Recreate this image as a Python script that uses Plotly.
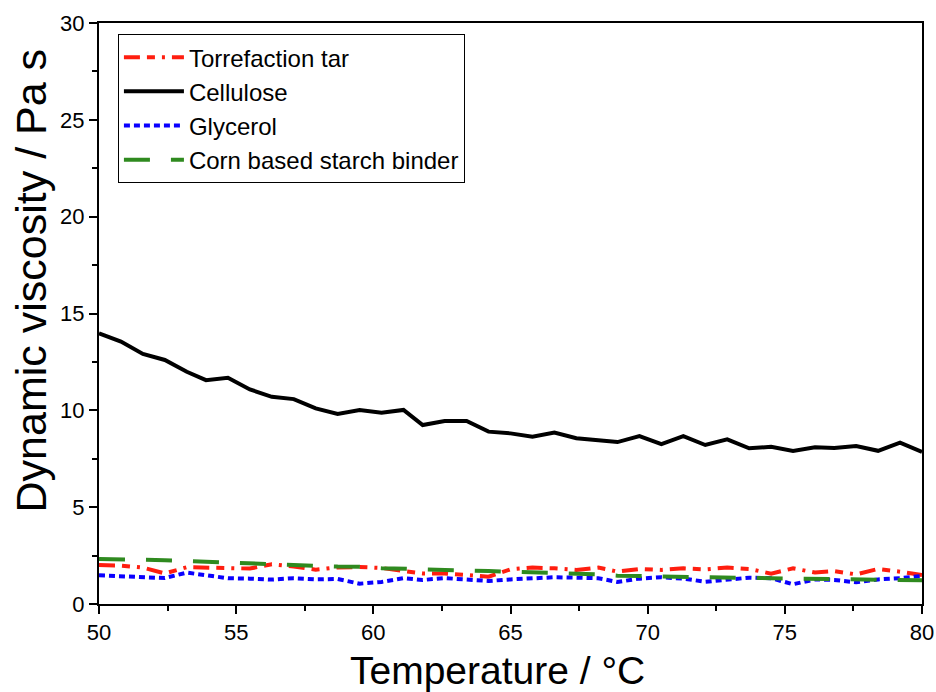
import plotly.graph_objects as go

temperature = [50.0, 50.8, 51.6, 52.4, 53.2, 53.9, 54.7, 55.5, 56.3, 57.1,
               57.9, 58.7, 59.5, 60.3, 61.1, 61.8, 62.6, 63.4, 64.2, 65.0,
               65.8, 66.6, 67.4, 68.2, 68.9, 69.7, 70.5, 71.3, 72.1, 72.9,
               73.7, 74.5, 75.3, 76.1, 76.8, 77.6, 78.4, 79.2, 80.0]

torrefaction_tar = [2.01, 1.98, 1.88, 1.58, 1.90, 1.89, 1.84, 1.83, 2.05, 1.94,
                    1.77, 1.89, 1.91, 1.86, 1.70, 1.58, 1.58, 1.50, 1.41, 1.79,
                    1.88, 1.84, 1.76, 1.88, 1.67, 1.81, 1.76, 1.84, 1.79, 1.88,
                    1.81, 1.57, 1.84, 1.63, 1.70, 1.53, 1.81, 1.67, 1.50]

cellulose = [13.98, 13.55, 12.91, 12.60, 11.99, 11.56, 11.68, 11.08, 10.70, 10.58,
             10.10, 9.81, 10.02, 9.88, 10.02, 9.24, 9.45, 9.45, 8.90, 8.81,
             8.64, 8.85, 8.56, 8.47, 8.36, 8.67, 8.26, 8.67, 8.21, 8.50,
             8.04, 8.12, 7.90, 8.09, 8.05, 8.16, 7.91, 8.33, 7.85]

glycerol = [1.48, 1.43, 1.40, 1.34, 1.62, 1.50, 1.33, 1.31, 1.26, 1.33,
            1.27, 1.29, 1.05, 1.14, 1.33, 1.24, 1.34, 1.26, 1.19, 1.27,
            1.33, 1.38, 1.36, 1.33, 1.14, 1.31, 1.38, 1.31, 1.15, 1.27,
            1.36, 1.33, 1.02, 1.27, 1.24, 1.12, 1.27, 1.33, 1.45]

corn_starch = [2.33, 2.32, 2.30, 2.26, 2.22, 2.19, 2.15, 2.10, 2.07, 2.02,
               1.97, 1.93, 1.92, 1.85, 1.83, 1.79, 1.77, 1.73, 1.70, 1.67,
               1.63, 1.60, 1.55, 1.53, 1.46, 1.45, 1.41, 1.39, 1.37, 1.36,
               1.35, 1.33, 1.31, 1.29, 1.28, 1.26, 1.25, 1.23, 1.22]

x_ticks = [50, 55, 60, 65, 70, 75, 80]
y_ticks = [0, 5, 10, 15, 20, 25, 30]
x_title = "Temperature / °C"
y_title = "Dynamic viscosity / Pa s"

series = [
    ("Torrefaction tar", torrefaction_tar, "#FF1E0F", "16px,7px,8px,7px,3px,7px"),
    ("Cellulose", cellulose, "#000000", "solid"),
    ("Glycerol", glycerol, "#0A00FF", "6px,4px"),
    ("Corn based starch binder", corn_starch, "#2F8A1F", "26px,21px"),
]

fig = go.Figure()
for name, vals, color, dash in series:
    fig.add_trace(go.Scatter(x=temperature, y=vals, mode="lines", name=name,
                             line=dict(color=color, width=4, dash=dash)))

axis_common = dict(
    showline=True, linecolor="black", linewidth=2, mirror=True,
    ticks="outside", ticklen=8, tickwidth=1.5, tickcolor="black",
    showgrid=False, zeroline=False, automargin=False,
    tickfont=dict(family="Liberation Sans, Arial", size=22, color="black"),
)

fig.update_layout(
    width=936, height=692,
    margin=dict(l=99, r=14, t=23, b=88),
    paper_bgcolor="white", plot_bgcolor="white",
    font=dict(family="Liberation Sans, Arial", color="black"),
    xaxis=dict(range=[50, 80], tickvals=x_ticks,
               minor=dict(dtick=2.5, ticks="outside", ticklen=5, tickwidth=1.5, tickcolor="black"),
               **axis_common),
    yaxis=dict(range=[0, 30], tickvals=y_ticks,
               minor=dict(dtick=2.5, ticks="outside", ticklen=5, tickwidth=1.5, tickcolor="black"),
               **axis_common),
    legend=dict(x=0.023, y=0.981, xanchor="left", yanchor="top",
                bordercolor="black", borderwidth=1, bgcolor="white",
                font=dict(size=24, color="black"), tracegroupgap=0, itemwidth=60),
    showlegend=True,
    annotations=[
        dict(text=x_title, xref="paper", yref="paper", x=0.4842, y=-0.1136,
             xanchor="center", yanchor="middle", showarrow=False,
             font=dict(size=39, color="black")),
        dict(text=y_title, xref="paper", yref="paper", x=-0.0825, y=0.557,
             xanchor="center", yanchor="middle", showarrow=False, textangle=-90,
             font=dict(size=43, color="black")),
    ],
)

fig.write_html("out.html", config={"displayModeBar": False},
               post_script="document.body.style.margin='0';document.body.style.overflow='hidden';")
